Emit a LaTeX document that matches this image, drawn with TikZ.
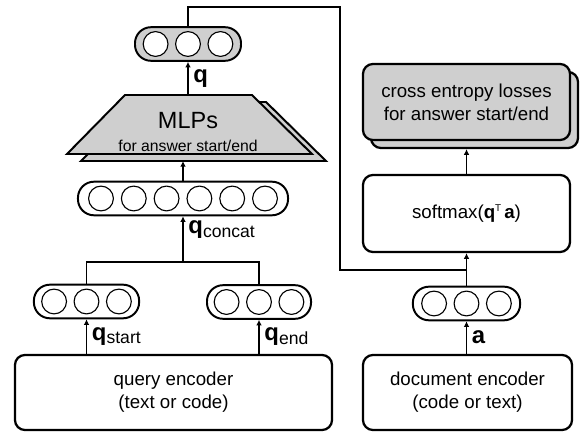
\documentclass[tikz,border=0pt]{standalone}
\usepackage{fontspec}
\setmainfont{Liberation Sans}
\usetikzlibrary{arrows.meta}

\tikzset{
  vecpill/.style={draw, line width=1.4pt, rounded corners=0.4cm, minimum height=0.84cm},
  unit/.style={line width=0.8pt},
  encbox/.style={draw, line width=1.6pt, rounded corners=0.25cm, align=center},
  conn/.style={line width=1.1pt},
  arr/.style={conn, -{Latex[length=4pt,width=4pt]}},
  dotfill/.style={fill=black!19},
}
\newcommand{\bq}[1]{{\fontsize{17}{17}\selectfont\bfseries q}{\fontsize{12.5}{12.5}\selectfont\raisebox{-0.35ex}{#1}}}

\begin{document}
\begin{tikzpicture}[x=0.025cm, y=-0.025cm, font=\fontsize{13.3}{16.4}\selectfont]
\useasboundingbox (0,0) rectangle (580,432);

% encoders
\node[encbox, minimum width=7.925cm, minimum height=1.875cm] (qenc) at (173.5,392.5) {query encoder\\(text or code)};
\node[encbox, minimum width=5.225cm, minimum height=1.875cm] (denc) at (467.5,392.5) {document encoder\\(code or text)};

% vectors
\node[vecpill, minimum width=2.63cm] (qstart) at (86.5,301.5) {};
\node[vecpill, minimum width=2.6cm] (qend) at (259,302) {};
\node[vecpill, minimum width=2.68cm] (dvec) at (466.5,303.5) {};
\node[vecpill, minimum width=5.25cm] (qcat) at (183,198.5) {};
\node[vecpill, dotfill, minimum width=2.65cm] (qvec) at (188,44) {};
\foreach \v in {qstart,qend,dvec}
  \foreach \s in {-0.81,0,0.81}
    \draw[unit] ([xshift=\s cm]\v.center) circle (0.31cm);
\foreach \s in {-0.81,0,0.81}
  \filldraw[unit, fill=white] ([xshift=\s cm]qvec.center) circle (0.31cm);
\foreach \s in {-2.05,-1.23,-0.41,0.41,1.23,2.05}
  \draw[unit] ([xshift=\s cm]qcat.center) circle (0.31cm);

% MLPs
\filldraw[dotfill, line width=1.4pt] (81,161) -- (326,161) -- (266,102) -- (139,102) -- cycle;
\filldraw[dotfill, line width=1.4pt] (67,154) -- (312,154) -- (252,95) -- (125,95) -- cycle;
\node (mlp) at (188,121) {\fontsize{16.7}{16.7}\selectfont MLPs};
\node (mlpsub) at (188,146) {\fontsize{11.2}{11.2}\selectfont for answer start/end};
\coordinate (mlpbot) at (183,161);
\coordinate (mlptop) at (188,95);

% query side
\coordinate (split) at (183,262);
\draw[arr] (qenc.north -| qstart) -- node[right] {\bq{start}} (qstart.south);
\draw[arr] (qenc.north -| qend) -- node[right] {\bq{end}} (qend.south);
\draw[conn] (qstart.north) |- (split) -| (qend.north);
\draw[arr] (split) -- node[right, pos=0.7] {\bq{concat}} (qcat.south);
\draw[arr] (qcat.north) -- (mlpbot);
\draw[arr] (mlptop) -- node[right] {\fontsize{17}{17}\selectfont\bfseries q} (qvec.south);

% document side
\node[encbox, minimum width=5.175cm, minimum height=1.925cm] (smax) at (466.5,213.5) {softmax({\bfseries q}\raisebox{0.7ex}{\fontsize{7}{7}\selectfont T}\,{\bfseries a})};
\node[encbox, dotfill, minimum width=5.175cm, minimum height=1.9cm] (ceshadow) at (474.5,110) {};
\node[encbox, dotfill, minimum width=5.175cm, minimum height=1.9cm] (celoss) at (466.5,102) {cross entropy losses\\for answer start/end};
\draw[arr] (denc.north -| dvec) -- node[right] {\fontsize{17}{17}\selectfont\bfseries a} (dvec.south);
\draw[arr] (dvec.north) -- (smax.south);
\draw[arr] (smax.north) -- (smax.north |- ceshadow.south);

% q goes over to the scores
\coordinate (bend) at (340,7);
\coordinate (joint) at (466.5,270);
\draw[conn] (qvec.north) |- (bend) |- (joint);
\end{tikzpicture}
\end{document}
